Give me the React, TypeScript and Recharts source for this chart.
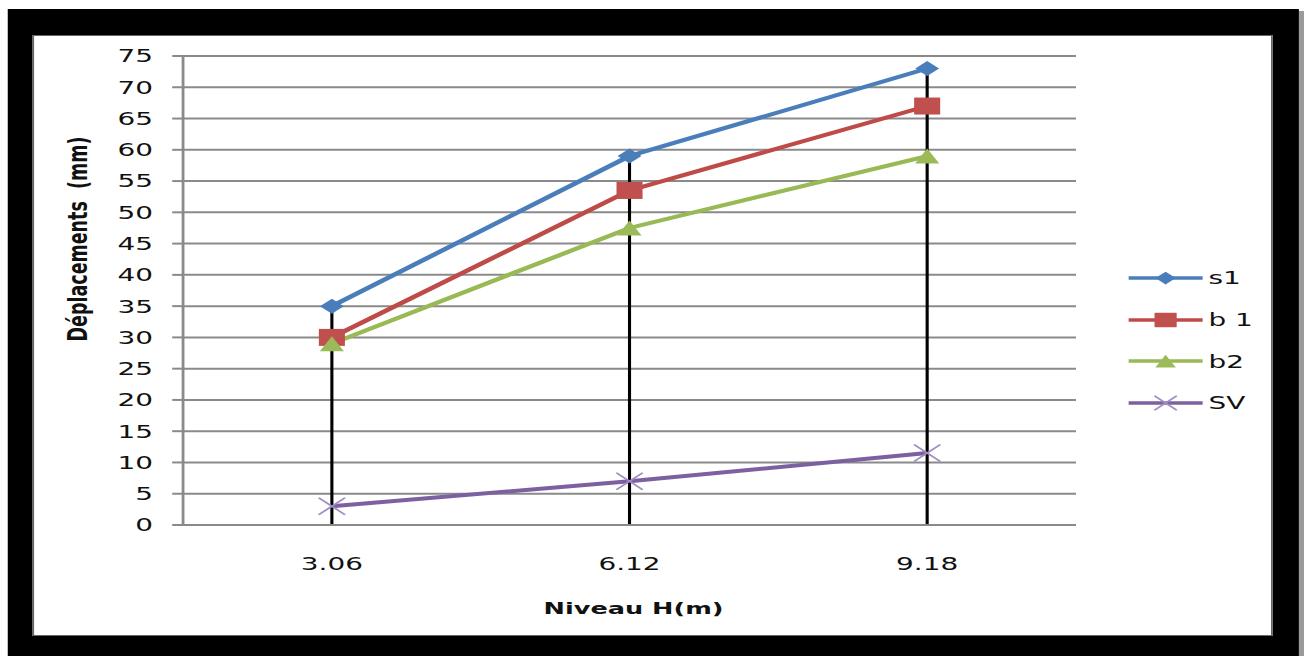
import React from 'react'
import {
  ComposedChart,
  Line,
  XAxis,
  YAxis,
  CartesianGrid,
  Legend,
  ReferenceLine,
} from 'recharts'

// valeurs
const niveaux = ['3.06', '6.12', '9.18']
const s1 = [35, 59, 73]
const b1 = [30, 53.5, 67]
const b2 = [29, 47.5, 59]
const sv = [3, 7, 11.5]
const yTicks = [0, 5, 10, 15, 20, 25, 30, 35, 40, 45, 50, 55, 60, 65, 70, 75]

const seriesNames = ['s1', 'b 1', 'b2', 'SV']
const seriesKeys = ['s1', 'b1', 'b2', 'sv']
const seriesValues = [s1, b1, b2, sv]

const colors = ['#4A7EBB', '#BE4B48', '#98B954', '#7D60A0']
const markerColors = ['#4A7EBB', '#C0504D', '#9BBB59', '#A28DC2']
const markers = ['diamond', 'square', 'triangle', 'cross']

const data = niveaux.map((h, i) => {
  const row: Record<string, number | string> = { h }
  seriesKeys.forEach((k, j) => {
    row[k] = seriesValues[j][i]
  })
  return row
})

// the source picture is stretched horizontally, so the chart is drawn narrow and scaled
const SX = 1.55
const W = 1304 / SX
const H = 656
const TICK_FONT = '"DejaVu Sans", Verdana, sans-serif'

function Marker({ kind, cx, cy, color, k = 1 }: any) {
  if (cx == null || cy == null) return null
  if (kind === 'diamond') {
    const w = 7.7 * k
    const h = 7.5 * k
    return <polygon points={`${cx},${cy - h} ${cx + w},${cy} ${cx},${cy + h} ${cx - w},${cy}`} fill={color} />
  }
  if (kind === 'square') {
    const w = 8.4 * k
    const h = 8.5 * k
    return <rect x={cx - w} y={cy - h} width={2 * w} height={2 * h} fill={color} />
  }
  if (kind === 'triangle') {
    const w = 7.8 * k
    const h = 7.5 * k
    return <polygon points={`${cx},${cy - h} ${cx + w},${cy + h} ${cx - w},${cy + h}`} fill={color} />
  }
  const w = 8.5 * k
  const h = 8.5 * k
  return (
    <g stroke={color} strokeWidth={1.5}>
      <line x1={cx - w} y1={cy - h} x2={cx + w} y2={cy + h} />
      <line x1={cx - w} y1={cy + h} x2={cx + w} y2={cy - h} />
    </g>
  )
}

function LegendBox() {
  return (
    <div style={{ fontFamily: TICK_FONT, fontSize: 18, color: '#111' }}>
      {seriesNames.map((name, i) => (
        <div key={name} style={{ display: 'flex', alignItems: 'center', height: 41.7 }}>
          <svg width={48} height={24} style={{ display: 'block' }}>
            <line x1={0} y1={12} x2={48} y2={12} stroke={colors[i]} strokeWidth={3.5} />
            <Marker kind={markers[i]} cx={24} cy={12} color={markerColors[i]} k={0.85} />
          </svg>
          <span style={{ marginLeft: 4, whiteSpace: 'pre' }}>{name}</span>
        </div>
      ))}
    </div>
  )
}

export default function App() {
  return (
    <div style={{ position: 'fixed', left: 0, top: 0, width: 1304, height: 656, overflow: 'hidden', background: '#fff' }}>
      <div style={{ position: 'absolute', left: 0, top: 0, width: W, height: H, transform: `scaleX(${SX})`, transformOrigin: '0 0' }}>
        {/* cadre noir */}
        <div style={{ position: 'absolute', left: 838.1, top: 11, width: 4, height: 660, background: '#9a9a9a' }} />
        <div style={{ position: 'absolute', left: 4.5, top: 9, width: 833.6, height: 660, background: '#000' }} />
        <div style={{ position: 'absolute', left: 21.3, top: 35, width: 800, height: 601, background: '#fff', boxSizing: 'border-box', border: '1px solid #666' }} />
        <div style={{ position: 'absolute', left: 0, top: 0 }}>
          <ComposedChart
            width={W}
            height={H}
            data={data}
            margin={{ top: 56, right: 147.1, bottom: 91, left: 58.1 }}
          >
            <CartesianGrid vertical={false} stroke="#8a8a8a" strokeWidth={2} />
            <XAxis
              dataKey="h"
              scale="band"
              height={40}
              tickLine={false}
              tickSize={0}
              tickMargin={32}
              axisLine={{ stroke: '#8a8a8a', strokeWidth: 2 }}
              tick={{ fill: '#111', fontSize: 18, fontFamily: TICK_FONT }}
              label={{
                content: ({ viewBox }: any) => (
                  <text
                    x={viewBox.x + viewBox.width / 2 + 2.6}
                    y={viewBox.y + 89}
                    textAnchor="middle"
                    fontFamily={TICK_FONT}
                    fontWeight="bold"
                    fontSize={16.5}
                    fill="#111"
                  >
                    Niveau H(m)
                  </text>
                ),
              }}
            />
            <YAxis
              width={60}
              domain={[0, 75]}
              ticks={yTicks}
              interval={0}
              tickSize={7}
              tickMargin={12.4}
              axisLine={{ stroke: '#8a8a8a', strokeWidth: 1.8 }}
              tickLine={{ stroke: '#8a8a8a', strokeWidth: 2 }}
              tick={{ fill: '#111', fontSize: 18, fontFamily: TICK_FONT }}
              label={{
                content: ({ viewBox }: any) => {
                  const x = viewBox.x - 8.4
                  const y = viewBox.y + 183
                  return (
                    <text
                      x={x}
                      y={y}
                      transform={`rotate(-90 ${x} ${y})`}
                      textAnchor="middle"
                      dominantBaseline="central"
                      fontFamily={TICK_FONT}
                      fontWeight="bold"
                      fontSize={17.5}
                      fill="#111"
                      style={{ whiteSpace: 'pre' }}
                    >
                      {'Déplacements  (mm)'}
                    </text>
                  )
                },
              }}
            />
            {seriesKeys.map((k, i) => (
              <Line
                key={k}
                dataKey={k}
                name={seriesNames[i]}
                stroke={colors[i]}
                strokeWidth={4}
                isAnimationActive={false}
                dot={(p: any) => (
                  <Marker key={`${k}-${p.index}`} kind={markers[i]} cx={p.cx} cy={p.cy} color={markerColors[i]} />
                )}
                activeDot={false}
              />
            ))}
            {niveaux.map((h, i) => (
              <ReferenceLine
                key={h}
                segment={[
                  { x: h, y: 0 },
                  { x: h, y: Math.max(...seriesValues.map((v) => v[i])) },
                ]}
                stroke="#000"
                strokeWidth={2}
              />
            ))}
            <Legend
              layout="vertical"
              align="center"
              verticalAlign="middle"
              content={() => <LegendBox />}
              wrapperStyle={{ left: 727.7, top: 257, width: 90 }}
            />
          </ComposedChart>
        </div>
      </div>
    </div>
  )
}
